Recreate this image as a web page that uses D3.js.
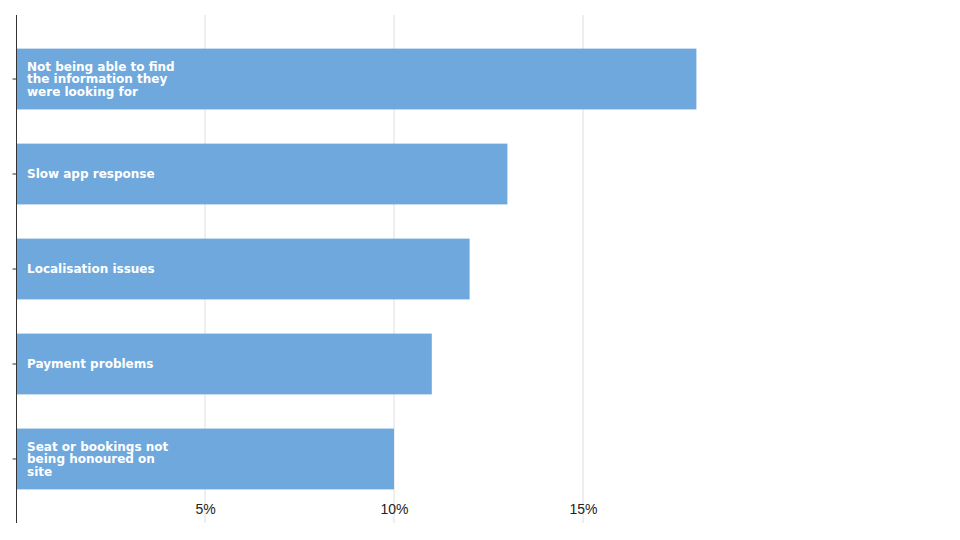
<!DOCTYPE html>
<html><head><meta charset="utf-8">
<script src="https://cdn.jsdelivr.net/npm/d3@7"></script>
<style>body{margin:0;background:#fff}svg{display:block}</style>
</head><body>
<svg id="c" width="960" height="540"></svg>
<script>
const categories = [
  ["Not being able to find", "the information they", "were looking for"],
  ["Slow app response"],
  ["Localisation issues"],
  ["Payment problems"],
  ["Seat or bookings not", "being honoured on", "site"]
];
const values = [18, 13, 12, 11, 10];
const tickValues = [5, 10, 15];
const tickLabels = ["5%", "10%", "15%"];

const svg = d3.select("#c");
const x = d3.scaleLinear().domain([0, 25]).range([16, 961]);
const ids = categories.map((d, i) => i);
const y = d3.scaleBand().domain(ids).range([15, 523]).paddingInner(0.36).paddingOuter(0.354);

// gridlines
svg.append("g").selectAll("line").data(tickValues).join("line")
  .attr("x1", d => x(d)).attr("x2", d => x(d))
  .attr("y1", 15).attr("y2", 523)
  .attr("stroke", "#dedede").attr("stroke-width", 1);

// x axis labels
const xAxis = d3.axisBottom(x).tickValues(tickValues)
  .tickFormat((d, i) => tickLabels[i]).tickSize(0).tickPadding(0);
const gx = svg.append("g").attr("transform", "translate(0,504)").call(xAxis);
gx.select(".domain").remove();
gx.selectAll("text").attr("font-family", "Arial, 'Liberation Sans', sans-serif")
  .attr("font-size", 14).attr("fill", "#222").attr("dy", "0.71em");

// bars
svg.append("g").selectAll("rect").data(values).join("rect")
  .attr("x", x(0)).attr("y", (d, i) => y(i))
  .attr("width", d => x(d) - x(0)).attr("height", y.bandwidth())
  .attr("fill", "#6fa8dc");

// y axis
const yAxis = d3.axisLeft(y).tickSize(4).tickFormat("");
const gy = svg.append("g").attr("transform", "translate(16.5,0)").call(yAxis);
gy.select(".domain").attr("d", "M0,15V523").attr("stroke", "#333");
gy.selectAll(".tick line").attr("stroke", "#333");

// labels inside bars
const lh = 12.3;
svg.append("g").selectAll("text").data(categories).join("text")
  .attr("font-family", "'DejaVu Sans', sans-serif")
  .attr("font-weight", "bold").attr("font-size", 12).attr("fill", "#fff")
  .attr("x", 27)
  .attr("y", (d, i) => y(i) + y.bandwidth() / 2 - (d.length - 1) * lh / 2)
  .each(function(d) {
    d3.select(this).selectAll("tspan").data(d).join("tspan")
      .attr("x", 27).attr("dy", (t, j) => j === 0 ? "0.36em" : lh).text(t => t);
  });
</script>
</body></html>
